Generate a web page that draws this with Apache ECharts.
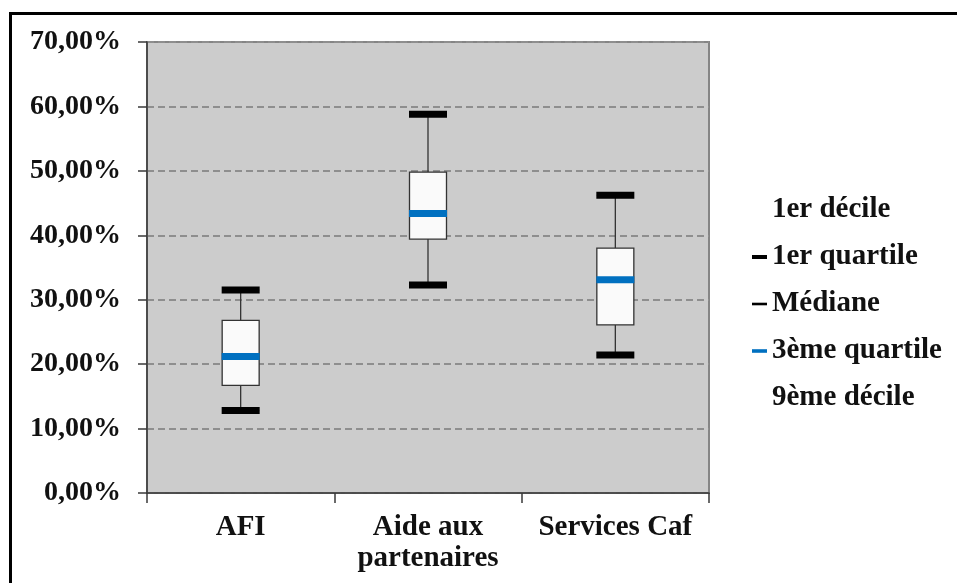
<!DOCTYPE html>
<html>
<head>
<meta charset="utf-8">
<script src="https://cdn.jsdelivr.net/npm/echarts@6/dist/echarts.min.js"></script>
<style>html,body{margin:0;padding:0;background:#fff;}#c{width:957px;height:583px;}</style>
</head>
<body>
<div id="c"></div>
<script>
const categories = ['AFI', 'Aide aux\npartenaires', 'Services Caf'];
const decile1 = [0.128, 0.323, 0.214];
const quartile1 = [0.167, 0.394, 0.261];
const mediane = [0.212, 0.434, 0.331];
const quartile3 = [0.268, 0.498, 0.380];
const decile9 = [0.315, 0.588, 0.462];
const yTicks = [0, 0.1, 0.2, 0.3, 0.4, 0.5, 0.6, 0.7];

const FONT = '"Liberation Serif", serif';
const chart = echarts.init(document.getElementById('c'), null, {renderer: 'canvas'});
const boxData = categories.map((c, i) => [decile1[i], quartile1[i], mediane[i], quartile3[i], decile9[i]]);

const solid = (color) => ({color: color, opacity: 1, borderWidth: 0});

chart.setOption({
  animation: false,
  backgroundColor: '#fff',
  graphic: [{
    type: 'rect', silent: true,
    shape: {x: 10.5, y: 13.5, width: 1000, height: 1000},
    style: {fill: 'none', stroke: '#000', lineWidth: 3}
  }],
  grid: {
    left: 147, right: 248, top: 42, bottom: 90,
    show: true, backgroundColor: '#cccccc', borderColor: '#858585', borderWidth: 2
  },
  legend: {
    orient: 'vertical', left: 747, top: 190,
    selectedMode: false,
    itemWidth: 15, itemHeight: 4, itemGap: 17,
    textStyle: {fontFamily: FONT, fontWeight: 'bold', fontSize: 29, color: '#111', lineHeight: 30},
    data: [
      {name: '1er décile', icon: 'none'},
      {name: '1er quartile', icon: 'path://M0,0L15,0L15,4L0,4Z', itemStyle: solid('#000')},
      {name: 'Médiane', icon: 'path://M0,0L15,0L15,2.6L0,2.6Z', itemStyle: solid('#000')},
      {name: '3ème quartile', icon: 'path://M0,0L15,0L15,3.6L0,3.6Z', itemStyle: solid('#0070c0')},
      {name: '9ème décile', icon: 'none'}
    ]
  },
  xAxis: {
    type: 'category', data: categories, boundaryGap: true,
    axisLine: {lineStyle: {color: '#3a3a3a', width: 1.5}},
    axisTick: {show: true, length: 10, lineStyle: {color: '#3a3a3a', width: 1.5}},
    axisLabel: {fontFamily: FONT, fontWeight: 'bold', fontSize: 29, color: '#111', lineHeight: 31, margin: 19, interval: 0}
  },
  yAxis: {
    type: 'value', min: 0, max: 0.7, interval: 0.1,
    axisLine: {show: true, lineStyle: {color: '#3a3a3a', width: 1.5}},
    axisTick: {show: true, length: 9, lineStyle: {color: '#3a3a3a', width: 1.5}},
    axisLabel: {
      fontFamily: FONT, fontWeight: 'bold', fontSize: 28, color: '#111', margin: 26,
      customValues: yTicks,
      formatter: v => (v * 100).toFixed(2).replace('.', ',') + '%'
    },
    splitLine: {show: true, lineStyle: {color: '#8e8e8e', width: 2, type: [7, 4]}}
  },
  series: [
    {
      name: '1er quartile', type: 'boxplot', data: boxData, boxWidth: [37, 37],
      itemStyle: {color: '#fafafa', borderColor: '#333', borderWidth: 1.3},
      emphasis: {disabled: true}, z: 1
    },
    {
      name: 'Médiane', type: 'scatter', data: mediane, symbol: 'rect', symbolSize: [37, 1],
      itemStyle: solid('#333'), z: 3, silent: true
    },
    {
      name: '3ème quartile', type: 'scatter', data: mediane, symbol: 'rect', symbolSize: [38, 7],
      itemStyle: solid('#0070c0'), z: 5, silent: true
    },
    {
      name: '1er décile', type: 'scatter', data: decile1, symbol: 'rect', symbolSize: [38, 7],
      itemStyle: solid('#000'), z: 5, silent: true
    },
    {
      name: '9ème décile', type: 'scatter', data: decile9, symbol: 'rect', symbolSize: [38, 7],
      itemStyle: solid('#000'), z: 5, silent: true
    }
  ]
});
</script>
</body>
</html>
